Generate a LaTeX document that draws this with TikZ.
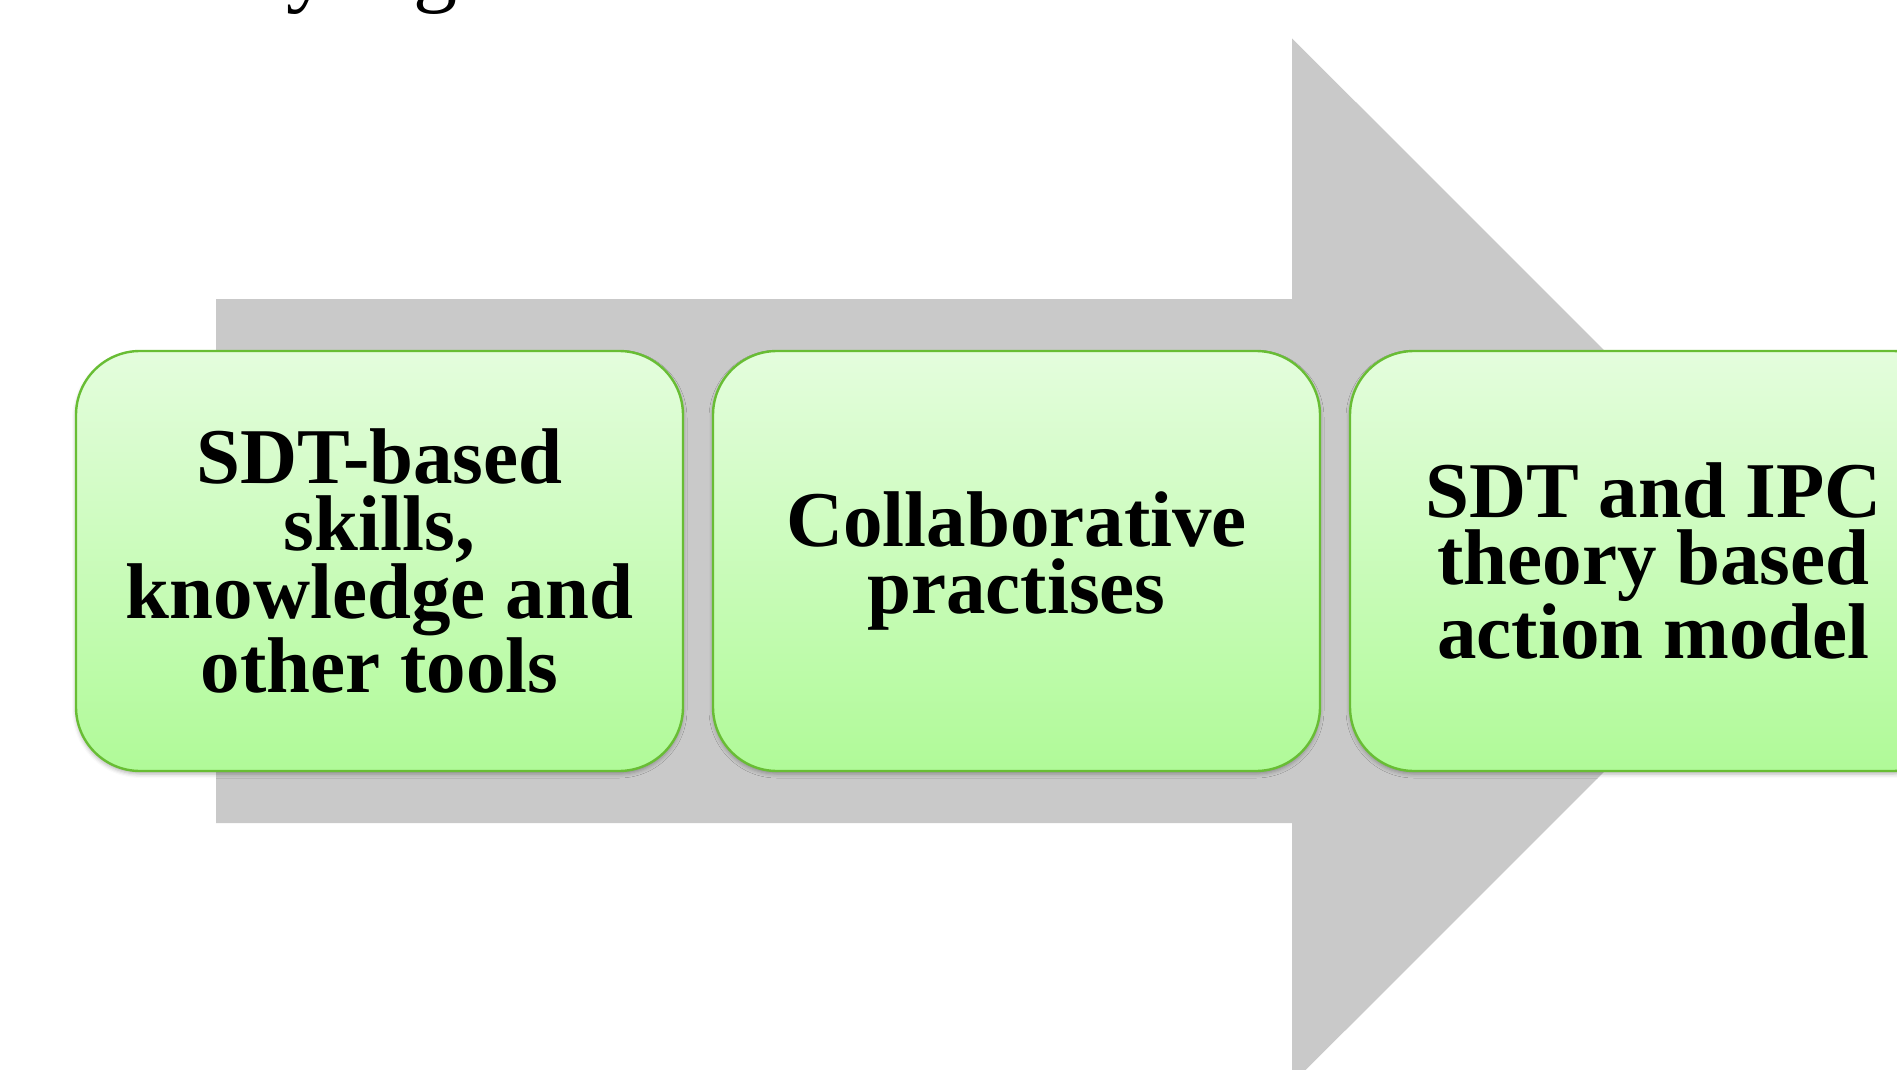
\documentclass[tikz,border=0pt]{standalone}
\usepackage{fontspec}
\setmainfont{Liberation Serif}
\usetikzlibrary{positioning,shadows.blur}

\definecolor{arrowgray}{RGB}{201,201,201}
\definecolor{stageline}{RGB}{104,189,52}
\definecolor{stagetop}{RGB}{228,253,221}
\definecolor{stagebottom}{RGB}{176,250,152}

\tikzset{
    stage/.style={draw=stageline, line width=1.2pt, rounded corners=32pt,
        top color=stagetop, bottom color=stagebottom,
        minimum width=303.5pt, minimum height=210pt, inner sep=0pt, align=center,
        font=\bfseries\fontsize{39.5}{33.8}\selectfont,
        blur shadow={shadow xshift=0pt, shadow yshift=-1.5pt, shadow blur radius=2pt, shadow opacity=30}},
    heading/.style={anchor=base west, inner sep=0pt, font=\fontsize{44}{44}\selectfont}
}

\begin{document}
\begin{tikzpicture}[x=0.5pt, y=-0.5pt]
        \useasboundingbox (0,0) rectangle (1897,1070);

        % what is left of the heading above
        \node[heading] (heady) at (286,-4.5) {y};
        \node[heading] (headg) at (413,-4.5) {g};

        % big gray arrow behind the three stages
        \fill[arrowgray] (216,299) -- (1292,299) -- (1292,38.3) -- (1815,561)
            -- (1292,1083.7) -- (1292,823) -- (216,823) -- cycle;

        \node[stage] (tools) at (379.5,561) {SDT-based\\skills,\\knowledge and\\other tools};
        \node[stage, right=13.8pt of tools] (practises) {Collaborative\\practises};
        \node[stage, right=13.8pt of practises] (model) {SDT and IPC\\theory based\\action model};
    \end{tikzpicture}
\end{document}
